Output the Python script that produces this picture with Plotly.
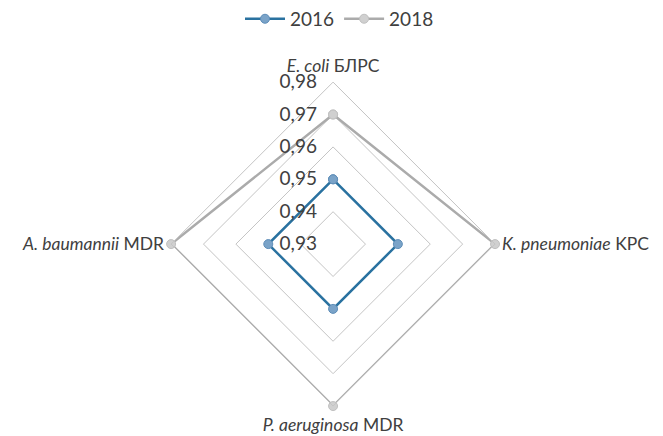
import plotly.graph_objects as go

categories = ["<i>E. coli</i> БЛРС", "<i>K. pneumoniae</i> KPC", "<i>P. aeruginosa</i> MDR", "<i>A. baumannii</i> MDR"]
values_2016 = [0.95, 0.95, 0.95, 0.95]
values_2018 = [0.97, 0.98, 0.98, 0.98]
tick_vals = [0.93, 0.94, 0.95, 0.96, 0.97, 0.98]

def closed(v):
    return list(v) + [v[0]]

fig = go.Figure()
fig.add_trace(go.Scatterpolar(
    r=closed(values_2016), theta=closed(categories), name="2016",
    mode="lines+markers",
    line=dict(color="#2a72a0", width=2.5),
    marker=dict(size=9, color="#7aa3c8", line=dict(color="#5e8db8", width=1)),
))
fig.add_trace(go.Scatterpolar(
    r=closed(values_2018), theta=closed(categories), name="2018",
    mode="lines+markers",
    line=dict(color="#ababab", width=2.5),
    marker=dict(size=9, color="#d0d0d0", line=dict(color="#c0c0c0", width=1)),
))

fig.update_layout(
    width=663, height=436,
    margin=dict(l=0, r=0, t=0, b=0, autoexpand=False),
    paper_bgcolor="white", plot_bgcolor="white",
    separators=", ",
    font=dict(family="Lato, Open Sans, sans-serif", color="#404040"),
    legend=dict(orientation="h", x=0.5, xanchor="center", y=0.975, yanchor="middle",
                yref="container", font=dict(size=19), itemwidth=40),
    polar=dict(
        domain=dict(x=[0.246, 0.7346], y=[0.087, 0.830]),
        bgcolor="white",
        gridshape="linear",
        radialaxis=dict(
            range=[0.93, 0.98], tickvals=tick_vals, tickformat=".2f",
            angle=90, tickangle=90, side="counterclockwise",
            showline=False, ticks="outside", ticklen=9, tickcolor="rgba(0,0,0,0)",
            gridcolor="#c4c4c4", gridwidth=1,
            tickfont=dict(size=19, color="#404040"),
        ),
        angularaxis=dict(
            rotation=90, direction="clockwise",
            showgrid=False, showline=True, linecolor="#c4c4c4", linewidth=1,
            ticks="outside", ticklen=3, tickcolor="rgba(0,0,0,0)",
            tickfont=dict(size=17.5, color="#404040"),
        ),
    ),
)

fig.write_html("out.html")
